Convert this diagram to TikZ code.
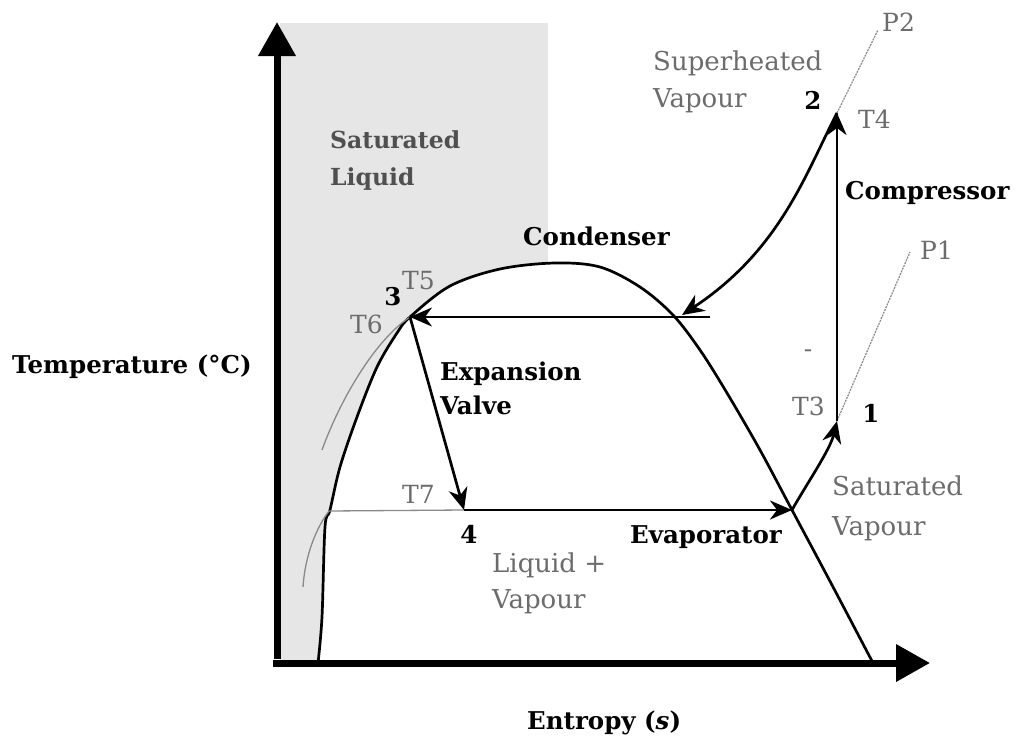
\documentclass[tikz,border=0pt]{standalone}
\usepackage{fontspec}
\setmainfont{DejaVu Serif}
\usetikzlibrary{arrows.meta}
\definecolor{txtgray}{RGB}{108,108,108}
\definecolor{darkgray}{RGB}{80,80,80}
\definecolor{shadegray}{RGB}{230,230,230}
\begin{document}
\begin{tikzpicture}[x=1pt,y=-1pt,
  bl/.style={font=\fontsize{24.5}{28}\selectfont\bfseries, text=black, inner sep=0pt},
  gl/.style={font=\fontsize{26}{30}\selectfont, text=txtgray, inner sep=0pt},
  sl/.style={font=\fontsize{23.5}{28}\selectfont\bfseries, text=darkgray, inner sep=0pt},
  tl/.style={font=\fontsize{25}{28}\selectfont, text=txtgray, inner sep=0pt},
  axisline/.style={line width=7pt, -{Triangle[length=34pt,width=36pt]}},
  flow/.style={line width=2.7pt, -{Stealth[length=22pt,width=19pt,inset=7pt]}},
  domeline/.style={line width=2.7pt},
  thinline/.style={line width=1.3pt, draw=txtgray!80},
  pline/.style={line width=1.2pt, draw=txtgray!80, dash pattern=on 2pt off 1pt},
  ]
\useasboundingbox (0,0) rectangle (1021,737);
% shaded liquid region
\fill[shadegray] (280,23) rectangle (548,663);
% saturation dome
\draw[domeline, fill=white] plot[smooth, tension=0.55] coordinates {
  (318,663) (322,617) (325,527) (330,510) (340,467) (357,417) (377,367)
  (397,333) (410,317) (450,286) (500,269) (555,263) (600,267) (640,287)
  (673,315) (700,350) (727,393) (760,450) (792,510) (832,585) (873,663)};
% key points
\coordinate (p1) at (837,421);
\coordinate (p2) at (837,113);
\coordinate (p3) at (410,317);
\coordinate (p4) at (464,510);
\coordinate (pe) at (792,510);
\coordinate (pc) at (682,315);
\coordinate (ce) at (710,317);
\coordinate (dl) at (329,511);
\coordinate (g1) at (322,450);
\coordinate (g2) at (303,587);
\coordinate (pp2) at (878,30);
\coordinate (pp1) at (910,252);
\coordinate (origin) at (277,663);
\coordinate (ytop) at (277,22);
\coordinate (xend) at (930,663);
% thin grey lines
\draw[thinline] (dl) -- (p4);
\draw[thinline] (p3) .. controls (375,340) and (340,400) .. (g1);
\draw[thinline] (dl) .. controls (316,528) and (305,556) .. (g2);
\draw[pline] (p2) -- (pp2);
\draw[pline] (p1) -- (pp1);
% cycle
\draw[flow] (p1) -- (p2);
\draw[flow] (p2) .. controls (805,175) and (780,250) .. (pc);
\draw[flow] (ce) -- (p3);
\draw[flow] (p3) -- (p4);
\draw[flow] (p4) -- (pe);
\draw[flow] (pe) .. controls (806,485) and (830,450) .. (p1);
% axes
\draw[axisline] ([yshift=4pt]origin) -- (ytop);
\draw[axisline] ([xshift=-4pt]origin) -- (xend);
% labels
\node[bl, anchor=base west] (tlab) at (12,373) {Temperature (°C)};
\node[bl, anchor=base west] (slab) at (527,729) {Entropy (\textit{s})};
\node[sl, anchor=base west] (satl1) at (330,148) {Saturated};
\node[sl, anchor=base west] (satl2) at (330,185) {Liquid};
\node[gl, anchor=base west] (sh1) at (653,70) {Superheated};
\node[gl, anchor=base west] (sh2) at (653,107) {Vapour};
\node[bl, anchor=base] (n2) at (813,109) {2};
\node[tl, anchor=base west] (t4) at (858,128) {T4};
\node[tl, anchor=base west] (lp2) at (882,31) {P2};
\node[bl, anchor=base west] (comp) at (845,199) {Compressor};
\node[bl, anchor=base west] (cond) at (523,245) {Condenser};
\node[tl, anchor=base west] (t5) at (402,289) {T5};
\node[bl, anchor=base] (n3) at (393,305) {3};
\node[tl, anchor=base west] (t6) at (350,333) {T6};
\node[bl, anchor=base west] (exp1) at (440,380) {Expansion};
\node[bl, anchor=base west] (exp2) at (440,414) {Valve};
\node[tl, anchor=base] (dash) at (808,357) {-};
\node[tl, anchor=base west] (lp1) at (920,259) {P1};
\node[tl, anchor=base west] (t3) at (792,415) {T3};
\node[bl, anchor=base] (n1) at (871,422) {1};
\node[tl, anchor=base west] (t7) at (402,503) {T7};
\node[bl, anchor=base] (n4) at (469,543) {4};
\node[gl, anchor=base west] (lv1) at (492,572) {Liquid +};
\node[gl, anchor=base west] (lv2) at (492,608) {Vapour};
\node[bl, anchor=base east] (evap) at (782,543) {Evaporator};
\node[gl, anchor=base west] (sv1) at (832,495) {Saturated};
\node[gl, anchor=base west] (sv2) at (832,535) {Vapour};
\end{tikzpicture}
\end{document}
